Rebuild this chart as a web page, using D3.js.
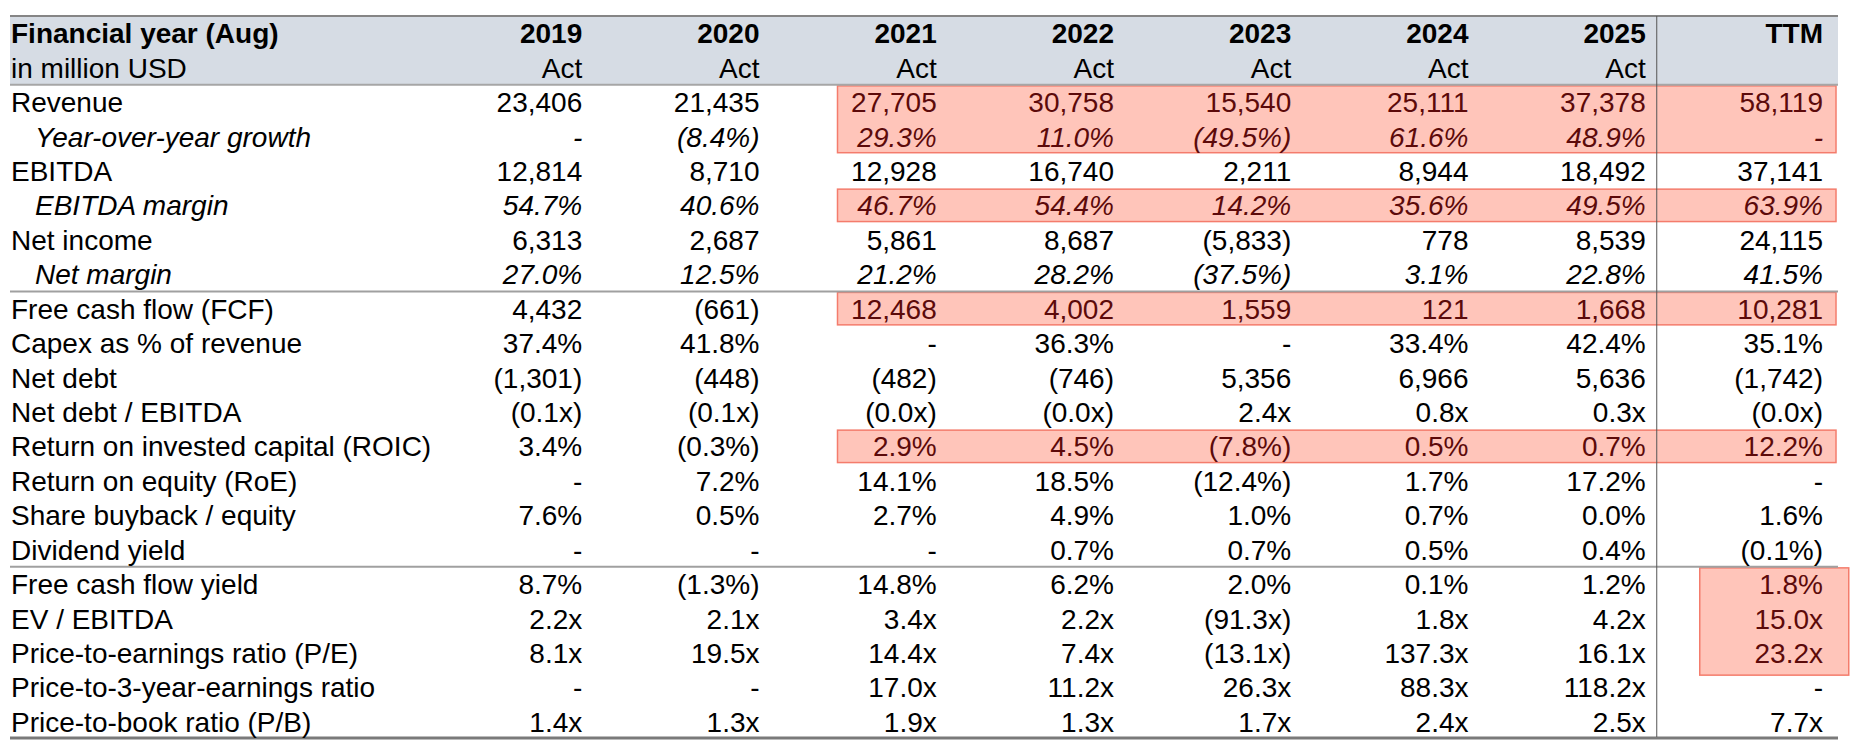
<!DOCTYPE html>
<html>
<head>
<meta charset="utf-8">
<script src="https://cdn.jsdelivr.net/npm/d3@7"></script>
<style>
  html, body { margin: 0; padding: 0; background: #fff; }
  svg text { font-family: "Liberation Sans", Arial, sans-serif; font-size: 28px; }
</style>
</head>
<body>
<div id="main"></div>
<script>
const columns = ['2019', '2020', '2021', '2022', '2023', '2024', '2025', 'TTM'];
const subHeader = ['Act', 'Act', 'Act', 'Act', 'Act', 'Act', 'Act', ''];

const rowLabels = [
    'Revenue', 'Year-over-year growth', 'EBITDA', 'EBITDA margin', 'Net income', 'Net margin',
    'Free cash flow (FCF)', 'Capex as % of revenue', 'Net debt', 'Net debt / EBITDA',
    'Return on invested capital (ROIC)', 'Return on equity (RoE)', 'Share buyback / equity', 'Dividend yield',
    'Free cash flow yield', 'EV / EBITDA', 'Price-to-earnings ratio (P/E)', 'Price-to-3-year-earnings ratio', 'Price-to-book ratio (P/B)'
]
const italicRows = ['Year-over-year growth', 'EBITDA margin', 'Net margin']

const revenue       = ['23,406', '21,435', '27,705', '30,758', '15,540', '25,111', '37,378', '58,119']
const revenueGrowth = ['-', '(8.4%)', '29.3%', '11.0%', '(49.5%)', '61.6%', '48.9%', '-']
const ebitda        = ['12,814', '8,710', '12,928', '16,740', '2,211', '8,944', '18,492', '37,141']
const ebitdaMargin  = ['54.7%', '40.6%', '46.7%', '54.4%', '14.2%', '35.6%', '49.5%', '63.9%']
const netIncome     = ['6,313', '2,687', '5,861', '8,687', '(5,833)', '778', '8,539', '24,115']
const netMargin     = ['27.0%', '12.5%', '21.2%', '28.2%', '(37.5%)', '3.1%', '22.8%', '41.5%']
const fcf           = ['4,432', '(661)', '12,468', '4,002', '1,559', '121', '1,668', '10,281']
const capexPct      = ['37.4%', '41.8%', '-', '36.3%', '-', '33.4%', '42.4%', '35.1%']
const netDebt       = ['(1,301)', '(448)', '(482)', '(746)', '5,356', '6,966', '5,636', '(1,742)']
const netDebtEbitda = ['(0.1x)', '(0.1x)', '(0.0x)', '(0.0x)', '2.4x', '0.8x', '0.3x', '(0.0x)']
const roic          = ['3.4%', '(0.3%)', '2.9%', '4.5%', '(7.8%)', '0.5%', '0.7%', '12.2%']
const roe           = ['-', '7.2%', '14.1%', '18.5%', '(12.4%)', '1.7%', '17.2%', '-']
const buyback       = ['7.6%', '0.5%', '2.7%', '4.9%', '1.0%', '0.7%', '0.0%', '1.6%']
const dividendYield = ['-', '-', '-', '0.7%', '0.7%', '0.5%', '0.4%', '(0.1%)']
const fcfYield      = ['8.7%', '(1.3%)', '14.8%', '6.2%', '2.0%', '0.1%', '1.2%', '1.8%']
const evEbitda      = ['2.2x', '2.1x', '3.4x', '2.2x', '(91.3x)', '1.8x', '4.2x', '15.0x']
const peRatio       = ['8.1x', '19.5x', '14.4x', '7.4x', '(13.1x)', '137.3x', '16.1x', '23.2x']
const pe3Ratio      = ['-', '-', '17.0x', '11.2x', '26.3x', '88.3x', '118.2x', '-']
const pbRatio       = ['1.4x', '1.3x', '1.9x', '1.3x', '1.7x', '2.4x', '2.5x', '7.7x']

const rowValues = [revenue, revenueGrowth, ebitda, ebitdaMargin, netIncome, netMargin, fcf, capexPct,
    netDebt, netDebtEbitda, roic, roe, buyback, dividendYield, fcfYield, evEbitda, peRatio, pe3Ratio, pbRatio]

// separators drawn under these rows
const sectionEnds = ['Net margin', 'Dividend yield']

// highlighted cell blocks: first row, last row, first column, last column
const highlights = [
    ['Revenue', 'Year-over-year growth', '2021', 'TTM'],
    ['EBITDA margin', 'EBITDA margin', '2021', 'TTM'],
    ['Free cash flow (FCF)', 'Free cash flow (FCF)', '2021', 'TTM'],
    ['Return on invested capital (ROIC)', 'Return on invested capital (ROIC)', '2021', 'TTM'],
    ['Free cash flow yield', 'Price-to-earnings ratio (P/E)', 'TTM', 'TTM']
]

const width = 1852;
const height = 754;
const left = 10, right = 1838;

const svg = d3.select('#main')
    .append('svg')
    .attr('width', width)
    .attr('height', height)

const allRows = ['head1', 'head2', ...rowLabels]
const y = d3.scaleBand().domain(allRows).range([16, 739])
const x = d3.scaleBand().domain(columns).range([405, 1823])
const rh = y.bandwidth()

const isHighlighted = (label, col) => highlights.some(h => {
    let r0 = rowLabels.indexOf(h[0]), r1 = rowLabels.indexOf(h[1]), r = rowLabels.indexOf(label)
    let c0 = columns.indexOf(h[2]), c1 = columns.indexOf(h[3]), c = columns.indexOf(col)
    return r >= r0 && r <= r1 && c >= c0 && c <= c1
})

// header band
svg.append('rect')
    .attr('x', left).attr('y', y('head1'))
    .attr('width', right - left).attr('height', rh * 2)
    .attr('fill', '#d6dce4')

// highlight boxes
svg.selectAll('rect.hl')
    .data(highlights)
    .enter()
    .append('rect')
    .attr('class', 'hl')
    .attr('x', (d) => d[2] == 'TTM' ? x('TTM') + 54 : x(d[2]) + 78)
    .attr('y', (d) => y(d[0]) + 1)
    .attr('width', (d) => d[2] == 'TTM' ? 149 : (x(d[3]) + x.bandwidth() + 13) - (x(d[2]) + 78))
    .attr('height', (d) => y(d[1]) + rh - y(d[0]) - 2 + (d[2] == 'TTM' ? 6 : 0))
    .attr('fill', '#ffc5ba')
    .attr('stroke', '#f47c6c')
    .attr('stroke-width', 1.5)

// lines
svg.append('line').attr('x1', left).attr('x2', right).attr('y1', 16).attr('y2', 16)
    .attr('stroke', '#858585').attr('stroke-width', 2)
svg.append('line').attr('x1', left).attr('x2', right).attr('y1', y(rowLabels[0])).attr('y2', y(rowLabels[0]))
    .attr('stroke', '#a6a6a6').attr('stroke-width', 2)
sectionEnds.forEach((s) => {
    let yy = y(s) + rh
    svg.append('line').attr('x1', left).attr('x2', right).attr('y1', yy).attr('y2', yy)
        .attr('stroke', '#a0a0a0').attr('stroke-width', 2)
})
svg.append('line').attr('x1', left).attr('x2', right).attr('y1', 738).attr('y2', 738)
    .attr('stroke', '#7a7a7a').attr('stroke-width', 3)
svg.append('line').attr('x1', x('TTM') + 11).attr('x2', x('TTM') + 11).attr('y1', 16).attr('y2', 737)
    .attr('stroke', '#555').attr('stroke-width', 1)

const baseline = (r) => y(r) + rh / 2 + 10

// header text
svg.append('text').attr('x', left + 1).attr('y', baseline('head1'))
    .attr('font-weight', 'bold').text('Financial year (Aug)')
svg.append('text').attr('x', left + 1).attr('y', baseline('head2'))
    .text('in million USD')
svg.selectAll('text.yr')
    .data(columns)
    .enter()
    .append('text')
    .attr('class', 'yr')
    .attr('x', (d) => x(d) + x.bandwidth())
    .attr('y', baseline('head1'))
    .attr('text-anchor', 'end')
    .attr('font-weight', 'bold')
    .text((d) => d)
svg.selectAll('text.act')
    .data(subHeader)
    .enter()
    .append('text')
    .attr('class', 'act')
    .attr('x', (d, i) => x(columns[i]) + x.bandwidth())
    .attr('y', baseline('head2'))
    .attr('text-anchor', 'end')
    .text((d) => d)

// row labels
svg.selectAll('text.lbl')
    .data(rowLabels)
    .enter()
    .append('text')
    .attr('class', 'lbl')
    .attr('x', (d) => italicRows.includes(d) ? left + 25 : left + 1)
    .attr('y', (d) => baseline(d))
    .attr('font-style', (d) => italicRows.includes(d) ? 'italic' : 'normal')
    .attr('fill', '#000')
    .text((d) => d)

// cells
let row = svg.selectAll('g.row')
    .data(rowValues)
    .enter()
    .append('g')
    .attr('class', 'row')

row.selectAll('text')
    .data((d, i) => d.map((v, j) => ({ v: v, label: rowLabels[i], col: columns[j] })))
    .enter()
    .append('text')
    .attr('x', (d) => x(d.col) + x.bandwidth())
    .attr('y', (d) => baseline(d.label))
    .attr('text-anchor', 'end')
    .attr('font-style', (d) => italicRows.includes(d.label) ? 'italic' : 'normal')
    .attr('fill', (d) => isHighlighted(d.label, d.col) ? '#5c0a0a' : '#000')
    .text((d) => d.v)
</script>
</body>
</html>
